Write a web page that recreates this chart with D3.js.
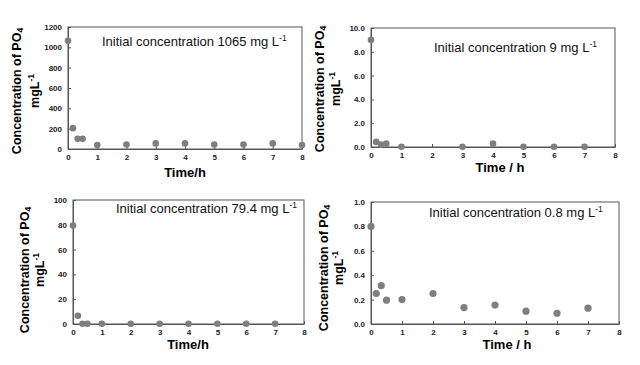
<!DOCTYPE html>
<html><head><meta charset="utf-8">
<script src="https://cdn.jsdelivr.net/npm/d3@7"></script>
<style>
html,body{margin:0;padding:0;background:#fff;}
svg{display:block;font-family:"Liberation Sans",Arial,sans-serif;}
</style></head>
<body><svg id="c" width="640" height="365"></svg>
<script>
// Data (time in hours, concentration in mg/L)
const xTicks = [0,1,2,3,4,5,6,7,8];
const time1 = [0,0.17,0.33,0.5,1,2,3,4,5,6,7,8];
const conc1 = [1065,205,100,100,40,45,55,55,45,45,55,40];
const yTicks1 = [0,200,400,600,800,1000,1200];

const time2 = [0,0.17,0.33,0.5,1,3,4,5,6,7];
const conc2 = [9.0,0.43,0.2,0.28,0.02,0.02,0.28,0.02,0.02,0.02];
const yTicks2 = [0,2,4,6,8,10];

const time3 = [0,0.17,0.33,0.5,1,2,3,4,5,6,7];
const conc3 = [79.4,6.7,0.2,0.2,0.2,0.2,0.2,0.2,0.2,0.2,0.2];
const yTicks3 = [0,20,40,60,80,100];

const time4 = [0,0.17,0.33,0.5,1,2,3,4,5,6,7];
const conc4 = [0.8,0.25,0.315,0.195,0.2,0.25,0.135,0.155,0.105,0.088,0.13];
const yTicks4 = [0,0.2,0.4,0.6,0.8,1.0];

const notes = ["Initial concentration 1065 mg L","Initial concentration 9 mg L","Initial concentration 79.4 mg L","Initial concentration 0.8 mg L"];
const xTitles = ["Time/h","Time / h","Time/h","Time / h"];

const panels = [
  {t:time1,c:conc1,yt:yTicks1,ymax:1200,fmt:d3.format("d"),box:[68,27,302,149],note:notes[0],nx:102,ny:46,
   yl:[17,35,91],xt:xTitles[0],xtx:185,xty:177,r:3.3},
  {t:time2,c:conc2,yt:yTicks2,ymax:10,fmt:d3.format(".1f"),box:[371,28,615,147],note:notes[1],nx:434,ny:52,
   yl:[320,336,89],xt:xTitles[1],xtx:500,xty:172,r:3.3},
  {t:time3,c:conc3,yt:yTicks3,ymax:100,fmt:d3.format("d"),box:[73,200,304,324],note:notes[2],nx:116,ny:213,
   yl:[25,40,270],xt:xTitles[2],xtx:188,xty:349,r:3.3},
  {t:time4,c:conc4,yt:yTicks4,ymax:1.0,fmt:d3.format(".1f"),box:[371,202,619,324],note:notes[3],nx:429,ny:217,
   yl:[324,339,268],xt:xTitles[3],xtx:507,xty:349,r:3.6}
];

const svg = d3.select("#c");
panels.forEach(p=>{
  const [x0,y0,x1,y1] = p.box;
  const x = d3.scaleLinear().domain([0,8]).range([x0,x1]);
  const y = d3.scaleLinear().domain([0,p.ymax]).range([y1,y0]);
  const g = svg.append("g");
  g.append("rect").attr("x",x0).attr("y",y0).attr("width",x1-x0).attr("height",y1-y0)
    .attr("fill","none").attr("stroke","#555").attr("stroke-width",1);
  const ax = g.append("g").attr("transform",`translate(0,${y1})`)
    .call(d3.axisBottom(x).tickValues(xTicks).tickSizeInner(-3).tickSizeOuter(0).tickPadding(5).tickFormat(d3.format("d")));
  const ay = g.append("g").attr("transform",`translate(${x0},0)`)
    .call(d3.axisLeft(y).tickValues(p.yt).tickSizeInner(-3).tickSizeOuter(0).tickPadding(6).tickFormat(p.fmt));
  [ax,ay].forEach(a=>{
    a.select(".domain").attr("stroke","#555");
    a.selectAll(".tick line").attr("stroke","#555");
    a.selectAll(".tick text").attr("fill","#222").attr("font-size",8).attr("font-weight","bold")
      .attr("font-family","'Liberation Sans',Arial,sans-serif");
  });
  g.selectAll("circle").data(p.t).enter().append("circle")
    .attr("cx",(d)=>x(d)).attr("cy",(d,i)=>y(p.c[i])).attr("r",p.r).attr("fill","#7f7f7f");
  // annotation
  const n = g.append("text").attr("x",p.nx).attr("y",p.ny).attr("font-size",13).attr("fill","#111");
  n.append("tspan").text(p.note);
  n.append("tspan").attr("dy",-5).attr("font-size",8.5).text("-1");
  // y title
  const yt = g.append("text").attr("transform",`translate(${p.yl[0]},${p.yl[2]}) rotate(-90)`)
    .attr("text-anchor","middle").attr("dominant-baseline","central").attr("font-weight","bold").attr("font-size",12.5);
  yt.append("tspan").text("Concentration of PO");
  yt.append("tspan").attr("dy",3).attr("font-size",8.5).text("4");
  const yt2 = g.append("text").attr("transform",`translate(${p.yl[1]},${p.yl[2]}) rotate(-90)`)
    .attr("text-anchor","middle").attr("dominant-baseline","central").attr("font-weight","bold").attr("font-size",12.5);
  yt2.append("tspan").text("mgL");
  yt2.append("tspan").attr("dy",-4).attr("font-size",8.5).text("-1");
  g.append("text").attr("x",p.xtx).attr("y",p.xty).attr("text-anchor","middle")
    .attr("font-weight","bold").attr("font-size",13).text(p.xt);
});
</script></body></html>
